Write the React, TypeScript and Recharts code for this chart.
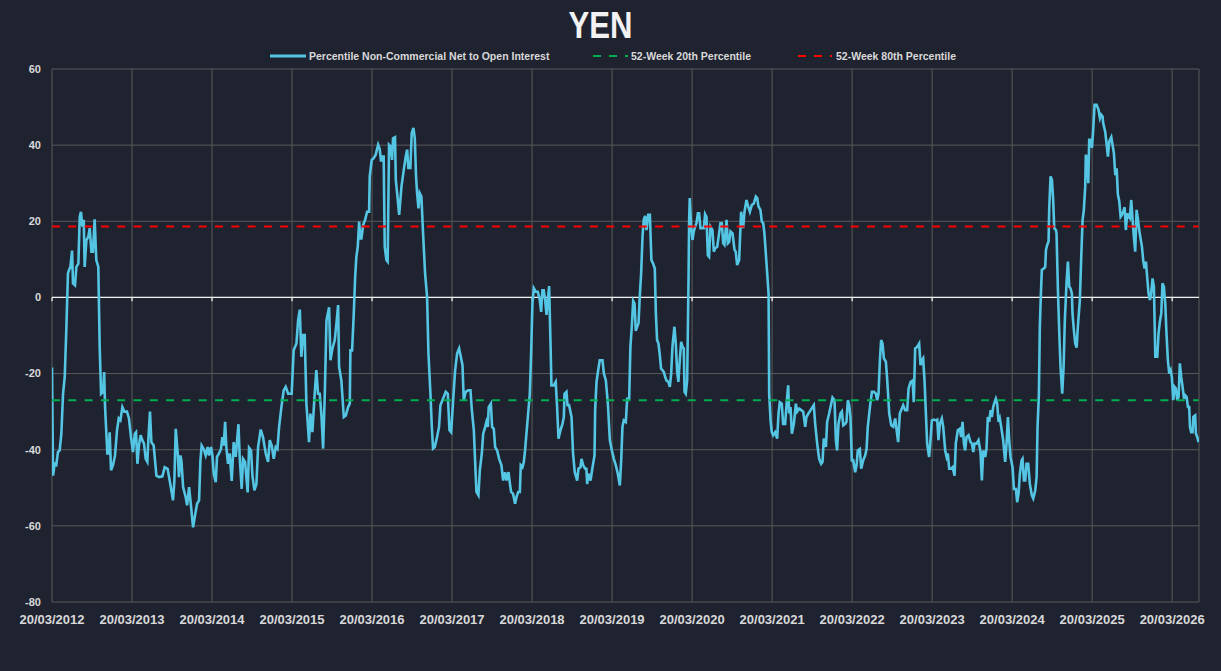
import React from 'react';
import { LineChart, Line, XAxis, YAxis, CartesianGrid, ReferenceLine } from 'recharts';

// ---------- labels / constants ----------
const TITLE = 'YEN';
const SERIES_NAME = 'Percentile Non-Commercial Net to Open Interest';
const P20_NAME = '52-Week 20th Percentile';
const P80_NAME = '52-Week 80th Percentile';
const TICK_LABELS = [
  '20/03/2012', '20/03/2013', '20/03/2014', '20/03/2015', '20/03/2016',
  '20/03/2017', '20/03/2018', '20/03/2019', '20/03/2020', '20/03/2021',
  '20/03/2022', '20/03/2023', '20/03/2024', '20/03/2025', '20/03/2026',
];
const Y_TICKS = [-80, -60, -40, -20, 0, 20, 40, 60];
const P20_VALUE = -27;
const P80_VALUE = 18.6;
const WEEKS_PER_YEAR = 365.25 / 7;

// ---------- data: [weeks since 20/03/2012, percentile value] ----------
const SEG_2012_2013: [number, number][] = [
  [0, -18.4], [0.7, -46.8], [1.7, -43.7], [2.8, -44], [3.9, -40.6], [5.0, -40.2], [6.1, -35.8], [7.2, -25.3],
  [8.3, -20.9], [9.4, -7.7], [10.4, 6.3], [11.1, 7.2], [12.0, 8], [13.1, 12.3], [13.7, 3.7], [15.0, 3.2],
  [15.9, 8], [17.2, 8.9], [18.1, 21.2], [18.9, 22.5], [19.8, 18.6], [20.7, 20.4], [21.3, 8], [22.4, 15],
  [23.7, 16], [24.6, 18.2], [25.7, 12], [26.7, 12], [27.8, 20.5], [28.9, 9.8], [30.2, 8], [31.1, -13],
  [32.0, -25.3], [33.3, -24.8], [34.0, -19.6], [34.6, -28.8], [36.1, -41], [37.0, -41], [37.6, -35.4], [38.5, -45.4],
  [39.8, -44], [41.1, -41.5], [42.4, -34.9], [43.5, -31.8], [44.6, -32.3], [45.9, -28.8], [47.2, -30], [48.9, -30],
  [50.2, -31.8], [51.5, -36.7], [52.8, -40.6], [54.0, -35.8], [54.8, -35.4], [55.7, -43.7], [56.7, -38.9], [57.8, -36.2],
  [58.9, -37.5], [60.0, -38.4], [61.1, -42.4], [62.2, -43.2], [62.8, -37.5], [63.9, -30], [64.8, -38], [66.3, -38.9],
  [68.1, -46.8], [69.8, -47.2], [72.0, -47], [73.5, -44.6], [75.4, -45], [76.8, -48.2], [78.9, -53.3], [79.8, -48.2],
  [80.7, -34.5], [82.0, -41], [82.8, -47.2], [83.7, -41.5],
];

const SEG_2013_2015: [number, number][] = [
  [84.4, -42.8], [85.5, -49.8], [87.2, -52.5], [88.1, -54.6], [89.4, -49.8], [90.5, -54.2], [92.0, -60.4], [93.1, -57.7],
  [94.6, -54.2], [95.9, -53.3], [96.8, -42.8], [97.6, -38.9], [98.9, -39.8], [100.2, -41.5], [101.5, -39.3], [102.4, -41.5],
  [103.7, -39.3], [104.6, -41.5], [105.5, -46.3], [106.8, -48.5], [107.6, -41.9], [108.9, -41], [110.2, -39.8], [111.1, -36.7],
  [112.0, -38.9], [112.9, -32.7], [113.7, -39.3], [114.8, -43.7], [115.9, -41], [117.2, -48.2], [118.5, -38], [119.8, -41.9],
  [121.6, -33.3], [122.4, -41.9], [123.7, -50.3], [124.6, -42.4], [125.9, -43.2], [127.6, -51.2], [128.5, -39.5], [129.8, -40.2],
  [130.7, -46.8], [132.0, -50.7], [133.3, -49], [134.4, -39.3], [136.1, -34.7], [137.6, -36.7], [139.4, -41], [140.9, -43.2],
  [142.0, -37.5], [143.3, -38.9], [144.6, -42.4], [145.9, -39.3], [147.0, -39.8], [148.1, -34], [149.6, -28.8], [151.1, -24.4],
  [152.4, -23.5], [154.0, -25.3], [156.3, -25.3], [157.6, -13.9], [159.4, -12.1], [160.5, -6], [161.6, -3.2], [162.6, -15.6],
  [163.7, -9.9], [164.8, -9.9], [165.9, -27.9], [167.6, -38], [168.5, -30.5], [169.8, -35.4], [171.3, -25.3], [172.4, -19.1],
  [173.5, -25.3],
];

const SEG_2015_2017: [number, number][] = [
  [174.6, -25.3], [175.7, -30.9], [176.8, -39.7], [177.9, -25.3], [179.0, -6], [180.7, -2.6], [181.6, -16.5], [182.9, -13.4],
  [184.4, -11.2], [185.5, -6.8], [186.6, -2], [187.2, -18.2], [188.7, -21.8], [190.3, -31.4], [191.6, -31], [193.1, -28.8],
  [194.2, -27.9], [194.6, -13.9], [195.7, -13.9], [196.8, -4.2], [197.7, 5.4], [198.5, 10.7], [199.4, 13.3], [200.3, 19.9],
  [201.1, 15.5], [201.8, 15.5], [202.9, 19], [204.2, 20.4], [205.5, 22.5], [206.8, 22.5], [207.2, 31.8], [208.5, 36.1],
  [209.8, 36.6], [211.1, 37.5], [212.7, 40.1], [213.7, 39], [214.6, 35.7], [215.5, 37], [216.3, 37], [217.0, 13.3],
  [218.1, 9.8], [218.9, 9.4], [219.8, 40.1], [220.9, 39.6], [221.8, 36.1], [222.4, 41.8], [223.7, 42.1], [224.2, 30.9],
  [225.5, 25.6], [226.4, 21.7], [227.9, 29.1], [229.4, 33.5], [230.7, 37], [231.6, 38.8], [232.4, 34], [233.7, 34],
  [234.6, 43.2], [235.7, 44.5], [236.6, 41.8], [237.4, 31.8], [238.1, 27.4], [239.0, 23.4], [239.8, 27.4], [240.9, 26.5],
  [242.0, 16.8], [243.3, 6.3], [244.6, 0.2], [245.5, -14.7], [246.8, -25.3], [247.7, -34], [248.5, -39.7], [249.6, -39.3],
  [251.1, -36.7], [252.4, -34], [253.3, -28.3], [255.0, -26.6], [256.8, -24.8], [258.1, -25.3], [259.2, -34.9], [260.3, -35.4],
  [261.6, -27], [262.9, -19.1], [264.2, -14.7], [265.5, -13.4],
];

const SEG_2017_2019: [number, number][] = [
  [267.7, -17.8], [268.5, -27], [269.8, -24.8], [271.4, -24.4], [272.9, -24.4], [273.8, -29.6], [275.1, -34.9], [275.9, -42.8],
  [276.8, -51.1], [278.1, -52], [279.0, -45.4], [280.3, -41], [281.2, -35.8], [282.5, -34], [283.3, -32.7], [284.2, -34],
  [284.8, -28.8], [286.2, -27.9], [287.0, -34], [288.1, -34.5], [289.0, -39.3], [290.3, -40.2], [291.6, -42.4], [293.1, -44.1],
  [294.2, -48.1], [295.5, -45.9], [296.4, -48.1], [297.7, -45.9], [298.5, -48.5], [299.4, -51.1], [300.7, -51.6], [302.0, -54.2],
  [302.9, -52.5], [304.0, -51.1], [305.1, -51.1], [305.7, -44.1], [306.8, -44.6], [307.7, -43.2], [308.5, -40.2], [309.4, -35.8],
  [310.5, -30.5], [311.6, -25.3], [312.5, -13.9], [313.3, -1.6], [314.2, 2.4], [315.5, 1.5], [316.8, 1.5], [318.1, -0.7],
  [319.0, -3.8], [319.8, 1.9], [320.7, 1.9], [321.6, -0.7], [322.5, -4.6], [323.3, -0.7], [324.2, 3], [325.1, -12.1],
  [325.7, -23.1], [327.2, -23.1], [328.5, -22.2], [329.4, -28.8], [330.3, -37.1], [331.6, -34.9], [332.9, -33.2], [333.8, -31.4],
  [334.2, -25.3], [335.5, -24.8], [336.2, -28.3], [337.2, -28.3], [338.8, -31.4], [339.8, -41], [340.9, -45.9], [342.5, -48.1],
  [343.3, -45], [344.6, -44.6], [345.3, -42.4], [346.4, -44.1], [347.7, -45], [348.5, -45], [349.0, -49], [349.8, -46.3],
  [351.2, -48.1], [352.5, -44.6], [353.8, -41.5], [354.2, -29.6], [355.1, -22.2], [356.0, -19.6],
];

const SEG_2019_2021: [number, number][] = [
  [357.2, -16.5], [359.0, -16.5], [359.9, -20], [361.2, -21.8], [362.5, -27.9], [363.8, -37.5], [365.1, -40.2], [366.4, -42.4],
  [367.7, -44.1], [369.0, -46.3], [370.3, -49.4], [371.2, -42.8], [372.0, -34], [372.9, -32.3], [374.2, -32.7], [375.1, -26.6],
  [376.4, -26.6], [377.2, -13], [378.1, -7.7], [379.0, -0.9], [379.9, -1.6], [380.7, -8.8], [381.6, -7.7], [382.5, -6.8],
  [383.3, 0.2], [384.2, 6.3], [385.1, 16], [385.9, 20.4], [386.8, 21.4], [387.7, 17.7], [388.8, 21.7], [389.9, 21.7],
  [390.9, 9.8], [392.0, 8.9], [393.1, 7.6], [393.8, -4.2], [394.6, -11.2], [395.5, -12.1], [396.4, -15.2], [397.2, -18.7],
  [398.1, -19.1], [399.0, -19.6], [399.9, -20.9], [400.7, -21.8], [402.0, -22.2], [402.9, -23.5], [403.8, -20], [404.6, -13],
  [405.9, -7.7], [406.8, -12.1], [407.7, -19.6], [408.5, -22.2], [409.4, -16.5], [410.3, -11.7], [411.2, -13], [412.0, -13.4],
  [412.5, -24.8], [413.3, -25.3], [414.2, -21.8], [414.6, -10.4], [415.1, 4.6], [415.5, 20.4], [415.9, 26.1], [416.8, 18.6],
  [417.7, 15.1], [418.5, 17.3], [419.4, 18.6], [420.3, 19.5], [421.2, 22.1], [422.0, 22.1], [422.9, 18.2], [423.8, 18.2],
  [425.1, 18.2], [425.9, 21.9], [426.8, 21.2], [427.7, 11.1], [428.5, 10.7], [429.4, 18.6], [430.7, 17.7], [431.6, 12],
  [432.5, 12.9], [433.8, 13.3], [434.6, 15.5], [435.9, 19.5], [436.8, 19.5], [437.7, 14.2], [438.5, 13.8], [439.9, 20.4],
  [440.7, 14.2], [441.6, 14.6], [442.5, 17.3], [443.8, 16.8], [445.1, 12.5], [445.9, 12], [446.8, 8.5], [448.1, 9.8],
];

const SEG_2021_2022: [number, number][] = [
  [449.4, 22.5], [450.7, 18.2], [451.6, 22.5], [452.9, 25.6], [454.0, 23.9], [455.1, 22.5], [456.4, 24.3], [457.7, 24.7],
  [459.0, 26.5], [459.9, 26.1], [460.7, 23.9], [462.0, 23], [462.9, 19.9], [463.8, 19.5], [464.6, 16.8], [465.5, 11.6],
  [466.4, 6.3], [467.3, 1], [467.7, -25.3], [468.6, -32.3], [469.4, -35.4], [470.3, -36.2], [471.6, -35.4], [472.9, -37.1],
  [473.8, -30.5], [474.6, -27.5], [475.9, -27.9], [476.8, -33.2], [478.1, -33.2], [479.0, -28.3], [480.1, -23.1], [480.7, -30.5],
  [481.6, -28.8], [482.5, -35.8], [483.8, -33.2], [485.1, -27.9], [486.0, -30], [487.3, -29.2], [488.6, -29.6], [489.9, -30],
  [491.2, -34], [492.0, -31.4], [493.3, -30.5], [494.7, -29.6], [496.0, -28.8], [496.8, -28.3], [497.7, -33.2], [499.0, -38.4],
  [500.3, -42.4], [501.6, -43.7], [502.5, -43.2], [503.3, -37.1], [504.7, -39.3], [505.5, -32.7], [506.8, -30.5], [507.7, -28.8],
  [509.0, -26.3], [510.3, -27], [511.2, -37.5], [512.0, -40.2], [512.9, -33.2], [514.2, -30.5], [515.1, -30], [516.0, -33.6],
  [517.3, -33.2], [518.1, -32.7], [519.0, -27], [519.9, -28.3], [520.7, -31.4], [521.6, -42.8], [522.5, -42.8], [523.8, -45.9],
  [524.7, -44.1], [525.5, -40.2], [526.8, -39.8], [527.7, -45], [529.0, -42.8], [530.3, -41.5], [531.2, -39.8], [532.0, -34],
  [533.4, -28.8], [534.7, -24.8], [536.0, -24.8], [537.3, -25.3], [538.1, -27], [539.0, -25.3], [539.9, -16.5],
];

const SEG_2022_2024: [number, number][] = [
  [540.7, -11.2], [541.6, -12.1], [542.5, -16], [543.8, -16.9], [544.7, -21.8], [546.0, -30.5], [547.3, -33.6], [548.6, -34],
  [549.9, -31.8], [550.7, -34.5], [551.8, -38], [552.9, -30.5], [554.2, -29.2], [555.1, -28.3], [556.4, -29.6], [557.7, -29.6],
  [558.6, -23.9], [559.9, -22.2], [561.2, -21.8], [562.0, -27.5], [562.9, -13.4], [564.2, -13], [565.5, -12.1], [566.4, -17.8],
  [567.3, -16.5], [568.1, -16], [569.0, -21.8], [569.9, -30.5], [570.7, -38.4], [572.0, -41.9], [572.9, -37.5], [573.8, -32.3],
  [575.1, -32.1], [576.4, -32.3], [577.3, -32.1], [578.1, -37.5], [579.0, -33.2], [580.3, -31.8], [581.2, -34], [582.5, -40.2],
  [583.4, -41.9], [584.2, -41], [585.1, -45], [586.4, -45], [587.3, -44.6], [588.6, -46.8], [589.4, -38.4], [590.7, -34.9],
  [592.0, -34.5], [592.9, -36.7], [593.8, -32.7], [594.7, -38.4], [595.5, -40.2], [596.4, -36.7], [597.7, -36.2], [599.0, -38],
  [599.9, -38.4], [600.8, -40.6], [601.6, -38.4], [602.9, -38.4], [604.2, -37.5], [605.5, -40.6], [606.4, -48.1], [607.3, -40.2],
  [608.6, -41.9], [609.4, -39.8], [610.3, -31.4], [611.2, -32.7], [612.1, -29.6], [612.9, -31.4], [613.8, -28.8], [614.7, -27.5],
  [615.5, -26.6], [616.4, -27.9], [617.3, -32.7], [618.1, -31.8], [619.0, -34], [620.3, -37.5], [621.6, -43.2], [622.5, -38.4],
  [623.4, -31.4], [624.2, -37.5], [625.1, -41.9], [626.4, -44.6], [627.3, -50.3], [628.6, -50.3], [629.4, -53.8], [630.3, -51.6],
  [631.2, -46.3],
];

const SEG_2024_2026: [number, number][] = [
  [632.3, -42.8], [632.9, -42.4], [633.8, -48.1], [634.7, -48.1], [635.5, -43.7], [636.6, -43.7], [637.7, -49], [639.0, -52],
  [639.9, -52.8], [641.2, -50.7], [642.1, -47.2], [642.7, -34.2], [643.6, -25.3], [644.2, -7.7], [644.9, 1], [645.5, 7.2],
  [646.8, 7.6], [647.7, 8], [648.2, 12.5], [649.0, 13.8], [649.9, 14.7], [650.3, 23], [651.2, 31.8], [652.1, 30.9],
  [652.9, 25.6], [653.6, 18.2], [654.7, 17.7], [655.1, 16.8], [656.0, 1.9], [656.9, -9.5], [657.7, -18.2], [658.8, -25.3],
  [659.7, -18.2], [660.5, -6], [661.6, 3.7], [662.5, 9.4], [663.4, 2.8], [664.2, 2.4], [665.1, 1], [665.5, -4.2],
  [666.4, -8.6], [667.3, -12.1], [668.2, -13.2], [669.0, -7.7], [670.3, -0.7], [671.2, 10.7], [672.1, 20.4], [672.9, 23],
  [673.8, 29.1], [674.2, 37.5], [675.1, 36.1], [675.8, 30], [676.4, 41.4], [677.3, 41.4], [678.2, 39.3], [679.0, 44],
  [679.9, 50.6], [681.2, 50.6], [682.5, 49.3], [683.4, 47.1], [684.2, 48], [685.1, 47.5], [685.5, 45.8], [686.8, 43.6],
  [687.7, 40.5], [688.6, 37], [689.5, 41], [690.8, 42.1], [691.6, 40.1], [692.5, 37.9], [693.4, 32.1], [694.3, 33.9],
  [695.1, 27], [696.0, 25.3], [696.9, 21.2], [697.7, 21.7], [698.6, 22.5], [699.5, 23.7], [700.3, 17.7], [701.2, 22.1],
  [702.1, 21.2], [702.9, 20.8], [703.8, 25.6], [704.7, 20.4], [705.5, 16], [706.4, 12], [707.3, 23], [708.2, 20.4],
  [709.0, 17.7], [709.9, 15.5], [710.8, 13.3], [711.6, 9.8], [712.5, 7.6], [713.4, 9.4], [714.2, 5.4], [715.1, 1],
  [716.0, -0.7], [716.8, 1], [717.7, 5], [718.6, 2.8], [719.5, -15.6], [720.8, -15.6], [721.6, -9.5], [722.5, -6.3],
  [723.4, -4.2], [724.2, 3.7], [725.1, 2.8], [726.0, -1.6], [726.8, -9.5], [727.7, -16.5], [728.6, -20], [729.5, -19.1],
  [730.3, -20.9], [731.2, -27], [732.1, -23.5], [732.9, -23.9], [733.8, -27], [734.7, -26.1], [735.5, -17.3], [736.4, -20.9],
  [737.3, -23.5], [738.2, -26.6], [739.0, -25.7], [739.9, -26.1], [740.8, -28.8], [741.6, -28.8], [742.1, -34], [742.9, -35.4],
  [743.8, -35.4], [744.3, -31.4], [745.5, -31], [746.0, -35.8], [746.9, -36.7], [747.7, -38],
];

const ALL_POINTS = [
  ...SEG_2012_2013, ...SEG_2013_2015, ...SEG_2015_2017, ...SEG_2017_2019,
  ...SEG_2019_2021, ...SEG_2021_2022, ...SEG_2022_2024, ...SEG_2024_2026,
];

const chartData = ALL_POINTS.map(([week, pct]) => ({ week, pct, p20: P20_VALUE, p80: P80_VALUE }));
const X_TICKS = TICK_LABELS.map((_, i) => i * WEEKS_PER_YEAR);
const X_MAX = 748;

// ---------- styles ----------
const BG = '#1f2330';
const GRID = '#5a5a5a';
const TEXT = '#d9d9d9';
const BLUE = '#54c5e3';
const GREEN = '#00b050';
const RED = '#ff0000';
const FONT = "'Liberation Sans', Arial, sans-serif";

export default function App() {
  return (
    <div style={{ position: 'relative', width: 1221, height: 671, background: BG, overflow: 'hidden' }}>
      <style>{'body{margin:0;background:' + BG + ';}'}</style>
      <LineChart
        width={1221}
        height={671}
        data={chartData}
        margin={{ top: 69, right: 22, bottom: 0, left: 0 }}
      >
        <CartesianGrid stroke={GRID} strokeWidth={1} />
        <XAxis
          type="number"
          dataKey="week"
          domain={[0, X_MAX]}
          ticks={X_TICKS}
          interval={0}
          allowDataOverflow
          height={69}
          axisLine={false}
          tickLine={false}
          tickSize={6}
          tickMargin={7}
          tickFormatter={(v: number) => TICK_LABELS[Math.round(v / WEEKS_PER_YEAR)] ?? ''}
          tick={{ fill: TEXT, fontSize: 13, fontWeight: 700, fontFamily: FONT }}
        />
        <YAxis
          type="number"
          domain={[-80, 60]}
          ticks={Y_TICKS}
          interval={0}
          width={52}
          axisLine={false}
          tickLine={false}
          tickSize={6}
          tickMargin={5}
          tick={{ fill: TEXT, fontSize: 11, fontWeight: 700, fontFamily: FONT }}
        />
        <ReferenceLine y={0} stroke="#f2f2f2" strokeWidth={1.3} />
        {X_TICKS.map((t) => (
          <ReferenceLine
            key={t}
            segment={[{ x: t, y: 0 }, { x: t, y: -1 }]}
            stroke="#f2f2f2"
            strokeWidth={1.3}
          />
        ))}
        <Line
          type="linear"
          dataKey="pct"
          stroke={BLUE}
          strokeWidth={2.6}
          dot={false}
          activeDot={false}
          isAnimationActive={false}
        />
        <Line
          type="linear"
          dataKey="p20"
          stroke={GREEN}
          strokeWidth={2}
          strokeDasharray="8 8.3"
          dot={false}
          activeDot={false}
          isAnimationActive={false}
        />
        <Line
          type="linear"
          dataKey="p80"
          stroke={RED}
          strokeWidth={2}
          strokeDasharray="8 8.3"
          dot={false}
          activeDot={false}
          isAnimationActive={false}
        />
      </LineChart>
      <svg
        width={1221}
        height={80}
        style={{ position: 'absolute', left: 0, top: 0, pointerEvents: 'none' }}
      >
        <text
          x={600.5}
          y={37.5}
          textAnchor="middle"
          fill="#f2f2f2"
          fontSize={36}
          fontWeight={700}
          fontFamily={FONT}
          textLength={64}
          lengthAdjust="spacingAndGlyphs"
        >
          {TITLE}
        </text>
        <line x1={270} x2={306} y1={56} y2={56} stroke={BLUE} strokeWidth={3} />
        <text x={309} y={60} fill={TEXT} fontSize={10.5} fontWeight={700} fontFamily={FONT}>
          {SERIES_NAME}
        </text>
        <line x1={593} x2={628} y1={56} y2={56} stroke={GREEN} strokeWidth={2} strokeDasharray="8 8" />
        <text x={631} y={60} fill={TEXT} fontSize={10.5} fontWeight={700} fontFamily={FONT}>
          {P20_NAME}
        </text>
        <line x1={798} x2={832} y1={56} y2={56} stroke={RED} strokeWidth={2} strokeDasharray="8 8" />
        <text x={836} y={60} fill={TEXT} fontSize={10.5} fontWeight={700} fontFamily={FONT}>
          {P80_NAME}
        </text>
      </svg>
    </div>
  );
}
